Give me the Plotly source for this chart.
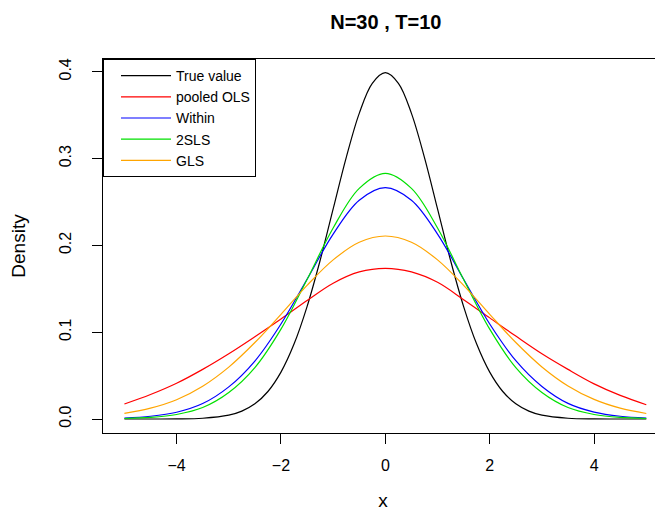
import plotly.graph_objects as go

# values
X = [-5.0, -4.5, -4.0, -3.5, -3.0, -2.5, -2.0, -1.5, -1.0, -0.5, 0.0,
     0.5, 1.0, 1.5, 2.0, 2.5, 3.0, 3.5, 4.0, 4.5, 5.0]
X_TRUE = [-5.0, -4.5, -4.0, -3.5, -3.0, -2.75, -2.5, -2.25, -2.0, -1.75, -1.5,
          -1.25, -1.0, -0.75, -0.5, -0.25, 0.0, 0.25, 0.5, 0.75, 1.0, 1.25,
          1.5, 1.75, 2.0, 2.25, 2.5, 2.75, 3.0, 3.5, 4.0, 4.5, 5.0]

true_value = [0.0, 0.0, 0.0001, 0.0009, 0.0044, 0.0091, 0.0175, 0.0317, 0.054,
              0.0863, 0.1295, 0.1826, 0.242, 0.3011, 0.3521, 0.3867, 0.3989,
              0.3867, 0.3521, 0.3011, 0.242, 0.1826, 0.1295, 0.0863, 0.054,
              0.0317, 0.0175, 0.0091, 0.0044, 0.0009, 0.0001, 0.0, 0.0]
pooled_ols = [0.0173, 0.0282, 0.0412, 0.0572, 0.0752, 0.0948, 0.1152, 0.1365,
              0.1565, 0.1695, 0.1736, 0.1695, 0.1575, 0.1375, 0.1165, 0.0955,
              0.0752, 0.0572, 0.0405, 0.0272, 0.0165]
within = [0.0012, 0.0032, 0.0078, 0.0178, 0.037, 0.0668, 0.1095, 0.161, 0.213,
          0.252, 0.2665, 0.252, 0.213, 0.161, 0.1095, 0.0672, 0.0375, 0.018,
          0.008, 0.0032, 0.0012]
two_sls = [0.0006, 0.0018, 0.0052, 0.0132, 0.0305, 0.0592, 0.1035, 0.1607,
           0.2201, 0.2657, 0.283, 0.2657, 0.2201, 0.1607, 0.1035, 0.0592,
           0.0305, 0.0132, 0.0052, 0.0018, 0.0006]
gls = [0.0066, 0.0125, 0.0222, 0.0378, 0.0598, 0.0881, 0.1206, 0.154, 0.1833,
       0.2036, 0.2108, 0.2036, 0.1833, 0.154, 0.1206, 0.0881, 0.06, 0.0381,
       0.0226, 0.0125, 0.0064]

FONT = "Liberation Sans, Arial, sans-serif"

series = [
    ("True value", X_TRUE, true_value, "black"),
    ("pooled OLS", X, pooled_ols, "#ff0000"),
    ("Within", X, within, "#0000ff"),
    ("2SLS", X, two_sls, "#00e000"),
    ("GLS", X, gls, "#ffa500"),
]

fig = go.Figure()
for name, xs, ys, color in series:
    fig.add_trace(go.Scatter(
        x=xs, y=ys, name=name, mode="lines",
        line=dict(color=color, width=1.2, shape="spline", smoothing=1),
    ))

# the page body keeps an 8px margin, so the figure is 8px smaller than the window
fig.update_layout(
    width=655, height=503,
    margin=dict(l=95, r=0, t=51, b=78, autoexpand=False),
    paper_bgcolor="white", plot_bgcolor="white",
    font=dict(family=FONT, size=16, color="black"),
    title=dict(text="<b>N=30 , T=10</b>", font=dict(size=20),
               x=0.505, xref="paper", xanchor="center",
               y=1 - 14 / 503, yref="container", yanchor="middle",
               automargin=False),
    showlegend=True,
    legend=dict(x=0, y=1, xanchor="left", yanchor="top",
                bgcolor="white", bordercolor="black", borderwidth=1,
                font=dict(size=14), itemwidth=50, indentation=12,
                tracegroupgap=0),
)
fig.update_xaxes(
    range=[-5.41, 5.32], showgrid=False, zeroline=False, automargin=False,
    showline=True, mirror=True, linecolor="black", linewidth=1,
    ticks="outside", ticklen=10, tickcolor="black",
    tickvals=[-4, -2, 0, 2, 4], ticklabelstandoff=8,
    title=dict(text="x", standoff=24),
)
fig.update_yaxes(
    range=[-0.0161, 0.4147], showgrid=False, zeroline=False, automargin=False,
    showline=True, linecolor="black", linewidth=1,
    ticks="outside", ticklen=10, tickcolor="black",
    tickvals=[0.0, 0.1, 0.2, 0.3, 0.4], tickformat=".1f", tickangle=-90,
    ticklabelstandoff=15,
    title=dict(text="Density", standoff=28),
)

fig.write_html("out.html")
